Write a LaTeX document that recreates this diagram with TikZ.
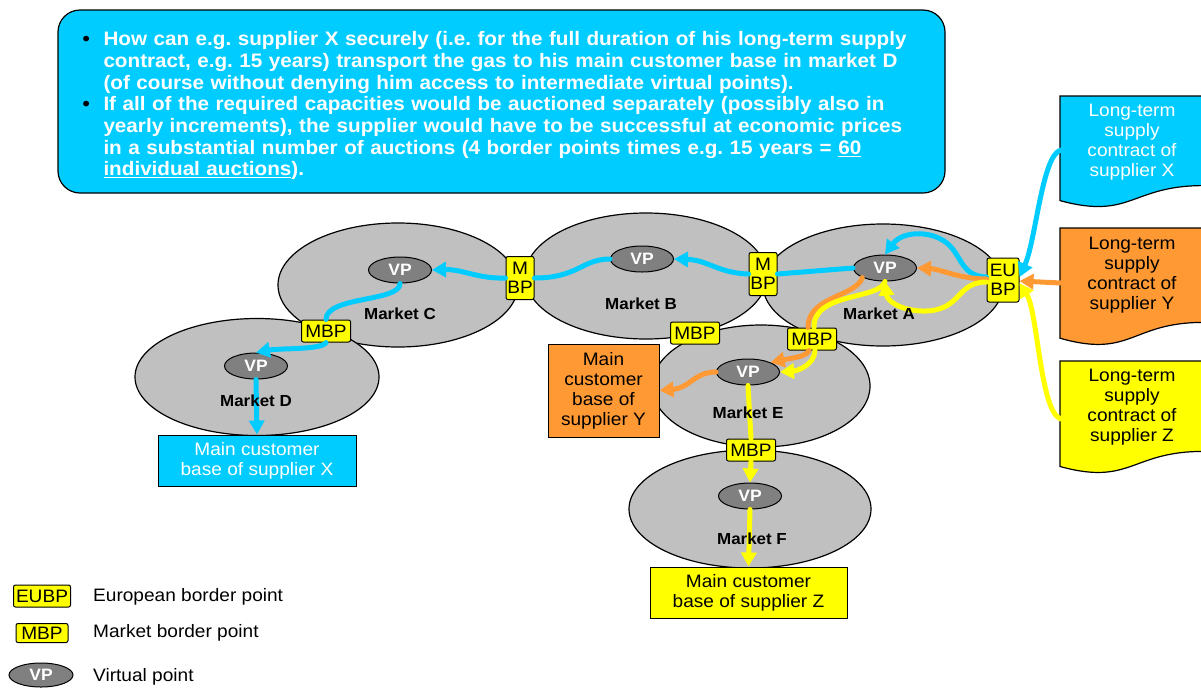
\documentclass[tikz,border=0pt]{standalone}
\usepackage{fontspec}
\setmainfont[FakeStretch=1.06]{Liberation Sans}
\usetikzlibrary{arrows.meta,shapes.geometric}
\frenchspacing
\definecolor{skyblue}{RGB}{0,204,255}
\definecolor{supplyorange}{RGB}{255,153,51}
\definecolor{supplyyellow}{RGB}{255,255,0}
\definecolor{marketgray}{RGB}{192,192,192}
\definecolor{vpgray}{RGB}{128,128,128}
\tikzset{
  market/.style={ellipse, draw=black, fill=marketgray, line width=1.2pt, inner sep=0pt},
  vp/.style={ellipse, draw=black, fill=vpgray, line width=1pt, inner sep=0pt, minimum width=63pt, minimum height=26pt, text=white, font=\fontsize{16.5}{18}\selectfont\bfseries},
  mbp/.style={draw=black, fill=supplyyellow, rounded corners=2pt, line width=1pt, inner sep=0pt, minimum width=49pt, minimum height=22pt, align=center, font=\fontsize{18}{19.5}\selectfont},
  mktlabel/.style={font=\fontsize{16}{18}\selectfont\bfseries},
  custbox/.style={draw=black, line width=1pt, align=center, inner sep=0pt, font=\fontsize{18}{20}\selectfont},
  contract/.style={align=center, inner sep=0pt, minimum width=142pt, font=\fontsize{18}{20}\selectfont},
  docshape/.style={draw=black, line width=1.2pt},
  headbox/.style={draw=black, fill=skyblue, rounded corners=22pt, line width=1.2pt, text width=838pt, inner xsep=24.5pt, minimum height=183pt, align=left, text=white, font=\fontsize{19.5}{21.7}\selectfont\bfseries},
  flow/.style={line width=5pt, line cap=round, line join=round},
  flowtip/.style={flow, -{Triangle[length=14pt,width=15pt]}},
  legendtext/.style={anchor=west, inner sep=0pt, font=\fontsize{18}{20}\selectfont}
}
\begin{document}
\begin{tikzpicture}[x=1pt,y=1pt]
\useasboundingbox (0,0) rectangle (1201,-689);

% question box
\node[headbox] (head) at (501.5,-101.5) {%
\begin{tabular}{@{}p{21pt}@{}l@{}}
\rule{0pt}{25pt}\textcolor{black}{\textbullet} & How can e.g. supplier X securely (i.e. for the full duration of his long-term supply\\
 & contract, e.g. 15 years) transport the gas to his main customer base in market D\\
 & (of course without denying him access to intermediate virtual points).\\
\textcolor{black}{\textbullet} & If all of the required capacities would be auctioned separately (possibly also in\\
 & yearly increments), the supplier would have to be successful at economic prices\\
 & in a substantial number of auctions (4 border points times e.g. 15 years = \underline{60}\\
 & \underline{individual auctions}).
\end{tabular}};

% long-term contracts
\filldraw[docshape, fill=skyblue] (1060,-96) -- (1203,-96) -- (1203,-185.6) .. controls (1131,-185.6) and (1131,-220) .. (1060,-200.6) -- cycle;
\filldraw[docshape, fill=supplyorange] (1060,-228) -- (1203,-228) -- (1203,-322.4) .. controls (1131,-322.4) and (1131,-358.6) .. (1060,-338.2) -- cycle;
\filldraw[docshape, fill=supplyyellow] (1060,-361) -- (1203,-361) -- (1203,-451.4) .. controls (1131,-451.4) and (1131,-486) .. (1060,-466.5) -- cycle;
\node[contract, text=white] (conX) at (1132,-142) {Long-term\\supply\\contract of\\supplier X};
\node[contract] (conY) at (1132,-275) {Long-term\\supply\\contract of\\supplier Y};
\node[contract] (conZ) at (1132,-407) {Long-term\\supply\\contract of\\supplier Z};

% markets
\node[market, minimum width=240pt, minimum height=124pt] (mktC) at (398,-285) {};
\node[market, minimum width=242pt, minimum height=126pt] (mktB) at (646,-276) {};
\node[market, minimum width=240pt, minimum height=122pt] (mktA) at (883,-285) {};
\node[market, minimum width=244pt, minimum height=117pt] (mktD) at (257,-377) {};
\node[market, minimum width=218pt, minimum height=122pt] (mktE) at (761,-386) {};
\node[market, minimum width=242pt, minimum height=118pt] (mktF) at (750,-509) {};

% customer bases
\node[custbox, fill=skyblue, text=white, minimum width=198pt, minimum height=51pt] (custX) at (257,-460.5) {Main customer\\base of supplier X};
\node[custbox, fill=supplyorange, minimum width=111pt, minimum height=93pt] (custY) at (603.5,-390.5) {Main\\customer\\base of\\supplier Y};
\node[custbox, fill=supplyyellow, minimum width=197pt, minimum height=51pt] (custZ) at (748.5,-592.5) {Main customer\\base of supplier Z};

% virtual points
\node[vp] (vpC) at (400,-270) {VP};
\node[vp] (vpB) at (642,-259) {VP};
\node[vp] (vpA) at (885,-268) {VP};
\node[vp] (vpD) at (256,-366) {VP};
\node[vp] (vpE) at (748,-372) {VP};
\node[vp] (vpF) at (750,-496) {VP};

% border points
\node[mbp, minimum width=28pt, minimum height=43pt] (mbpBC) at (520,-278) {M\\BP};
\node[mbp, minimum width=28pt, minimum height=43pt] (mbpAB) at (763,-274) {M\\BP};
\node[mbp] (mbpCD) at (326,-331) {MBP};
\node[mbp] (mbpBE) at (695,-333) {MBP};
\node[mbp] (mbpAE) at (812,-339) {MBP};
\node[mbp] (mbpEF) at (751,-450) {MBP};
\node[mbp, minimum width=32pt, minimum height=44pt] (eubp) at (1003,-280) {EU\\BP};

% supplier X
\draw[flowtip, skyblue] ([yshift=-8pt]conX.west) .. controls (1042,-155) and (1036,-240) .. ([yshift=3pt]eubp.east);
\draw[flowtip, skyblue] ([yshift=3pt]eubp.west) .. controls (962,-276) and (962,-258) .. (950,-246) .. controls (935,-230) and (903,-230) .. (vpA.north);
\draw[flow, skyblue] (vpA.west) -- (mbpAB.east);
\draw[flowtip, skyblue] (mbpAB.west) .. controls (718,-273) and (708,-260) .. (vpB.east);
\draw[flow, skyblue] (vpB.west) .. controls (582,-259) and (578,-278) .. (mbpBC.east);
\draw[flowtip, skyblue] (mbpBC.west) .. controls (478,-279) and (462,-269) .. (vpC.east);
\draw[flow, skyblue] (vpC.south) .. controls (400,-302) and (326,-296) .. (mbpCD.north);
\draw[flowtip, skyblue] (mbpCD.south) .. controls (322,-350) and (280,-348) .. (vpD.north);
\draw[flowtip, skyblue] (vpD.south) -- (custX.north);

% supplier Y
\draw[flowtip, supplyorange] ([yshift=-8pt]conY.west) -- ([yshift=-1pt]eubp.east);
\draw[flowtip, supplyorange] ([yshift=1pt]eubp.west) .. controls (960,-279) and (940,-269) .. (vpA.east);
\draw[flow, supplyorange] (vpA.south west) .. controls (856,-297) and (808,-296) .. ([xshift=-4pt]mbpAE.north);
\draw[flowtip, supplyorange] ([xshift=-3pt]mbpAE.south) .. controls (806,-357) and (792,-358) .. (vpE.north east);
\draw[flowtip, supplyorange] (vpE.west) .. controls (694,-372) and (690,-388) .. (custY.east);

% supplier Z
\draw[flowtip, supplyyellow] ([yshift=-12pt]conZ.west) .. controls (1040,-412) and (1038,-312) .. ([yshift=-3pt]eubp.east);
\draw[flowtip, supplyyellow] ([yshift=-2pt]eubp.west) .. controls (955,-282) and (962,-312) .. (922,-311) .. controls (898,-310) and (887,-300) .. (vpA.south);
\draw[flow, supplyyellow] (vpA.south) .. controls (880,-300) and (813,-292) .. ([xshift=2pt]mbpAE.north);
\draw[flowtip, supplyyellow] ([xshift=3pt]mbpAE.south) .. controls (814,-366) and (796,-371) .. (vpE.east);
\draw[flow, supplyyellow] (vpE.south) -- (mbpEF.north);
\draw[flowtip, supplyyellow] (mbpEF.south) -- (vpF.north);
\draw[flowtip, supplyyellow] (vpF.south) -- (custZ.north);

% market names
\node[mktlabel] (labC) at (400,-314) {Market C};
\node[mktlabel] (labB) at (641,-304) {Market B};
\node[mktlabel] (labA) at (879,-314) {Market A};
\node[mktlabel] (labD) at (256,-401) {Market D};
\node[mktlabel] (labE) at (748,-413) {Market E};
\node[mktlabel] (labF) at (752,-539) {Market F};

% legend
\node[mbp, minimum width=57pt, minimum height=22pt] (legEU) at (42,-596) {EUBP};
\node[mbp, minimum width=52pt, minimum height=19pt] (legMBP) at (42,-633) {MBP};
\node[vp, minimum width=64pt, minimum height=24pt] (legVP) at (41,-675) {VP};
\node[legendtext] (legEUtext) at (93,-597) {European border point};
\node[legendtext] (legMBPtext) at (93,-633) {Market border point};
\node[legendtext] (legVPtext) at (93,-677) {Virtual point};
\end{tikzpicture}
\end{document}
